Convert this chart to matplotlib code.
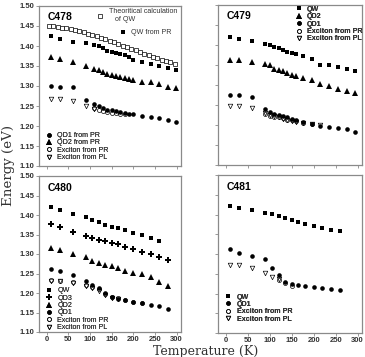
import matplotlib
matplotlib.use("Agg")
import matplotlib.pyplot as plt
from matplotlib.lines import Line2D

# ---- data ----
# C478
t478_th = [5, 15, 25, 35, 45, 55, 65, 75, 85, 95, 105, 115, 125, 135, 145,
           155, 165, 175, 185, 195, 205, 215, 225, 235, 245, 255, 265, 275, 285, 295]
e478_th = [1.449, 1.449, 1.448, 1.446, 1.444, 1.442, 1.440, 1.437, 1.434, 1.431,
           1.428, 1.424, 1.420, 1.417, 1.413, 1.409, 1.405, 1.401, 1.397, 1.393,
           1.389, 1.385, 1.381, 1.377, 1.373, 1.369, 1.365, 1.362, 1.359, 1.356]
t478 = [10, 30, 60, 90, 110, 120, 130, 140, 150, 160, 170, 180, 190, 200, 220, 240, 260, 280, 298]
qw478 = [1.424, 1.418, 1.411, 1.408, 1.402, 1.399, 1.394, 1.388, 1.385, 1.383,
         1.380, 1.377, 1.373, 1.364, 1.360, 1.356, 1.349, 1.345, 1.340]
qd2_478 = [1.373, 1.368, 1.360, 1.350, 1.342, 1.339, 1.335, 1.331, 1.328, 1.325,
           1.322, 1.320, 1.318, 1.316, 1.311, 1.310, 1.306, 1.298, 1.294]
qd1_478 = [1.299, 1.297, 1.297, 1.266, 1.255, 1.249, 1.244, 1.241, 1.239, 1.237,
           1.235, 1.233, 1.231, 1.229, 1.225, 1.222, 1.219, 1.215, 1.210]
t478_xpr = [110, 120, 130, 140, 150, 160, 170, 180]
xpr478 = [1.244, 1.240, 1.237, 1.235, 1.233, 1.232, 1.230, 1.229]
t478_xpl = [10, 30, 60, 90, 110]
xpl478 = [1.268, 1.268, 1.262, 1.250, 1.243]

# C479
t479 = [10, 30, 60, 90, 100, 110, 120, 130, 140, 150, 160, 175, 195, 215, 235, 255, 275, 295]
qw479 = [1.419, 1.414, 1.409, 1.403, 1.399, 1.396, 1.392, 1.387, 1.383, 1.380,
         1.377, 1.373, 1.364, 1.351, 1.349, 1.346, 1.340, 1.334]
qd2_479 = [1.363, 1.362, 1.358, 1.353, 1.350, 1.341, 1.337, 1.334, 1.331, 1.326,
           1.322, 1.317, 1.312, 1.303, 1.297, 1.290, 1.284, 1.280]
qd1_479 = [1.274, 1.274, 1.270, 1.241, 1.233, 1.228, 1.224, 1.222, 1.219, 1.215,
           1.212, 1.208, 1.203, 1.198, 1.194, 1.192, 1.189, 1.183]
t479_xpr = [90, 100, 110, 120, 130, 140, 150, 160, 175, 195]
xpr479 = [1.227, 1.223, 1.221, 1.219, 1.217, 1.213, 1.212, 1.209, 1.206, 1.202]
t479_xpl = [10, 30, 60, 90, 100, 110, 120, 130, 140, 150, 160, 175, 195, 215]
xpl479 = [1.248, 1.248, 1.242, 1.231, 1.225, 1.222, 1.219, 1.216, 1.213, 1.210,
          1.208, 1.206, 1.202, 1.199]

# C480
t480 = [10, 30, 60, 90, 105, 120, 135, 150, 165, 180, 200, 220, 240, 260, 280]
qw480 = [1.421, 1.412, 1.403, 1.395, 1.388, 1.381, 1.375, 1.370, 1.366, 1.362,
         1.355, 1.350, 1.341, 1.334]
qd3_480 = [1.376, 1.369, 1.357, 1.347, 1.342, 1.337, 1.333, 1.328, 1.325, 1.318,
           1.314, 1.306, 1.300, 1.292, 1.284]
qd2_480 = [1.316, 1.310, 1.301, 1.292, 1.283, 1.276, 1.271, 1.268, 1.263, 1.257,
           1.252, 1.248, 1.240, 1.228, 1.219]
qd1_480 = [1.262, 1.257, 1.247, 1.232, 1.221, 1.213, 1.200, 1.190, 1.185, 1.181,
           1.177, 1.174, 1.170, 1.167, 1.160]
xpr480 = [1.234, 1.230, 1.228, 1.220, 1.216, 1.210, 1.198, 1.190, 1.186, 1.182, 1.178, 1.175]
xpl480 = [1.232, 1.231, 1.226, 1.218, 1.213, 1.205, 1.195, 1.188, 1.185]

# C481
t481 = [10, 30, 60, 90, 105, 120, 135, 150, 165, 180, 200, 220, 240, 260]
qw481 = [1.421, 1.417, 1.411, 1.404, 1.401, 1.396, 1.390, 1.385, 1.381, 1.377,
         1.370, 1.365, 1.362, 1.357]
qd1_481 = [1.313, 1.302, 1.295, 1.287, 1.265, 1.246, 1.230, 1.225, 1.222, 1.218,
           1.216, 1.213, 1.211, 1.208]
t481_xpr = [120, 135, 150]
xpr481 = [1.235, 1.226, 1.219]
xpl481 = [1.273, 1.272, 1.265, 1.251, 1.243, 1.236]

yticks = [1.10, 1.15, 1.20, 1.25, 1.30, 1.35, 1.40, 1.45, 1.50]
xticks = [0, 50, 100, 150, 200, 250, 300]

SPINE = "#8a8a8a"
TXT = "#333333"
plt.rcParams["font.family"] = ["Liberation Sans", "DejaVu Sans"]

# marker styles
st = {
    "sq": dict(marker="s", ms=3.1, color="k", mew=0, ls="none"),
    "sq_open": dict(marker="s", ms=2.8, color="k", mfc="white", mew=0.5, ls="none"),
    "tri": dict(marker="^", ms=3.7, color="k", mew=0, ls="none"),
    "circ": dict(marker="o", ms=3.3, color="k", mew=0, ls="none"),
    "plus": dict(marker="P", ms=3.9, color="k", mew=0, ls="none"),
    "circ_open": dict(marker="o", ms=2.9, color="k", mfc="none", mew=0.5, ls="none"),
    "tri_open": dict(marker="v", ms=3.3, color="k", mfc="none", mew=0.5, ls="none"),
}

fig = plt.figure(figsize=(3.65, 3.57), dpi=100)
W, H = 365.0, 357.0


def make_ax(x0, y0, x1, y1):
    ax = fig.add_axes([x0 / W, 1 - y1 / H, (x1 - x0) / W, (y1 - y0) / H])
    ax.set_xlim(-18, 310)
    ax.set_ylim(1.10, 1.50)
    ax.set_xticks(xticks)
    ax.set_yticks(yticks)
    for s in ax.spines.values():
        s.set_color(SPINE)
        s.set_linewidth(0.9)
    ax.tick_params(direction="out", length=2, width=0.6, color=SPINE,
                   labelsize=5.5, labelcolor=TXT, pad=1.2)
    for lab in ax.get_xticklabels() + ax.get_yticklabels():
        lab.set_fontweight("bold")
    return ax


def leg(ax, items, anchor, loc, bold=False, fs=5.1):
    handles = [Line2D([], [], **st[k]) for k, _ in items]
    labels = [l for _, l in items]
    lg = ax.legend(handles, labels, loc=loc, bbox_to_anchor=anchor, frameon=False,
                   handlelength=1.0, handletextpad=0.7,
                   labelspacing=0.06, borderpad=0.1, borderaxespad=0.0,
                   prop={"size": fs, "weight": "bold" if bold else "normal"})
    for t in lg.get_texts():
        t.set_color(TXT)
    ax.add_artist(lg)
    return lg


# ---- C478 ----
ax1 = make_ax(39, 6, 181, 166)
ax1.plot(t478_th, e478_th, **st["sq_open"])
ax1.plot(t478, qw478, **st["sq"])
ax1.plot(t478, qd2_478, **st["tri"])
ax1.plot(t478, qd1_478, **st["circ"])
ax1.plot(t478_xpr, xpr478, **st["circ_open"])
ax1.plot(t478_xpl, xpl478, **st["tri_open"])
ax1.tick_params(labelbottom=False)
ax1.text(0.06, 0.965, "C478", transform=ax1.transAxes, fontsize=7.5,
         fontweight="bold", va="top", ha="left")
leg(ax1, [("sq_open", "Theoritical calculation\n   of QW")], (0.40, 0.99), "upper left")
leg(ax1, [("sq", "QW from PR")], (0.56, 0.86), "upper left")
leg(ax1, [("circ", "QD1 from PR"), ("tri", "QD2 from PR"),
          ("circ_open", "Exciton from PR"), ("tri_open", "Exciton from PL")],
    (0.04, 0.025), "lower left")

# ---- C479 ----
ax2 = make_ax(218, 5, 362, 165)
ax2.plot(t479, qw479, **st["sq"])
ax2.plot(t479, qd2_479, **st["tri"])
ax2.plot(t479, qd1_479, **st["circ"])
ax2.plot(t479_xpr, xpr479, **st["circ_open"])
ax2.plot(t479_xpl, xpl479, **st["tri_open"])
ax2.tick_params(labelbottom=False, labelleft=False)
ax2.text(0.06, 0.965, "C479", transform=ax2.transAxes, fontsize=7.5,
         fontweight="bold", va="top", ha="left")
leg(ax2, [("sq", "QW"), ("tri", "QD2"), ("circ", "QD1"),
          ("circ_open", "Exciton from PR"), ("tri_open", "Exciton from PL")],
    (0.53, 1.0), "upper left", bold=True)

# ---- C480 ----
ax3 = make_ax(39, 176, 181, 332)
ax3.plot(t480[:len(qw480)], qw480, **st["sq"])
ax3.plot(t480, qd3_480, **st["plus"])
ax3.plot(t480, qd2_480, **st["tri"])
ax3.plot(t480, qd1_480, **st["circ"])
ax3.plot(t480[:len(xpr480)], xpr480, **st["circ_open"])
ax3.plot(t480[:len(xpl480)], xpl480, **st["tri_open"])
ax3.text(0.06, 0.955, "C480", transform=ax3.transAxes, fontsize=7.5,
         fontweight="bold", va="top", ha="left")
leg(ax3, [("sq", "QW"), ("plus", "QD3"), ("tri", "QD2"), ("circ", "QD1"),
          ("circ_open", "Exciton from PR"), ("tri_open", "Exciton from PL")],
    (0.04, 0.0), "lower left")

# ---- C481 ----
ax4 = make_ax(218, 175, 362, 333)
ax4.plot(t481, qw481, **st["sq"])
ax4.plot(t481, qd1_481, **st["circ"])
ax4.plot(t481_xpr, xpr481, **st["circ_open"])
ax4.plot(t481[:len(xpl481)], xpl481, **st["tri_open"])
ax4.tick_params(labelleft=False)
ax4.text(0.06, 0.955, "C481", transform=ax4.transAxes, fontsize=7.5,
         fontweight="bold", va="top", ha="left")
leg(ax4, [("sq", "QW"), ("circ", "QD1"),
          ("circ_open", "Exciton from PR"), ("tri_open", "Exciton from PL")],
    (0.04, 0.06), "lower left", bold=True)

fig.text(9 / W, 1 - 166 / H, "Energy (eV)", rotation=90, ha="center", va="center",
         fontsize=9.6, family="DejaVu Serif", color=TXT)
fig.text(206 / W, 1 - 351 / H, "Temperature (K)", ha="center", va="center",
         fontsize=9, family="DejaVu Serif", color=TXT)

fig.savefig("out.png", dpi=100)
